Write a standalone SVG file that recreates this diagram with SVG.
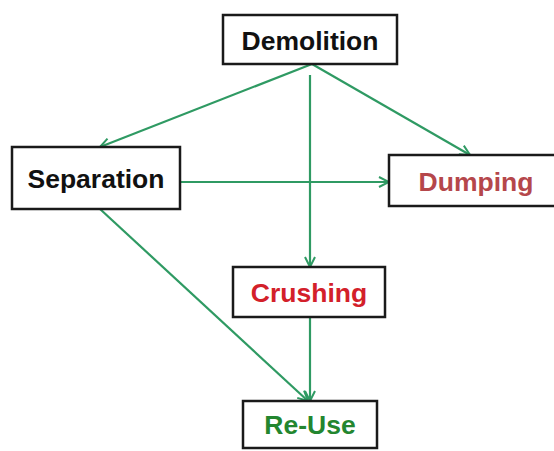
<svg xmlns="http://www.w3.org/2000/svg" width="554" height="451" viewBox="0 0 554 451">
<style>
.box{fill:#fff;stroke:#1a1a1a;stroke-width:2.5}
.lbl{font-family:"Liberation Sans",Arial,sans-serif;font-weight:bold;font-size:26.5px;text-anchor:middle;dominant-baseline:central}
.edge{fill:none;stroke:#2f9a63;stroke-width:2.2;marker-end:url(#arr)}
</style>
<defs>
<marker id="arr" viewBox="0 0 12 12" refX="11" refY="6" markerWidth="12" markerHeight="12" markerUnits="userSpaceOnUse" orient="auto">
<path d="M1,1 L11,6 L1,11" fill="none" stroke="#2f9a63" stroke-width="2"/>
</marker>
</defs>
<rect width="554" height="451" fill="#fff"/>
<g id="connectors">
<line class="edge" x1="312" y1="64" x2="100" y2="147"/>
<line class="edge" x1="312" y1="64" x2="470" y2="155"/>
<line class="edge" x1="310" y1="75" x2="310" y2="267"/>
<line class="edge" x1="180" y1="182" x2="389" y2="182"/>
<line class="edge" x1="100" y1="209" x2="308" y2="401"/>
<line class="edge" x1="310" y1="317" x2="310" y2="401"/>
</g>
<g id="demolition">
<rect class="box" x="223" y="15" width="174" height="49"/>
<text class="lbl" x="310" y="41" fill="#111">Demolition</text>
</g>
<g id="separation">
<rect class="box" x="12" y="147" width="168" height="62"/>
<text class="lbl" x="96" y="179" fill="#111">Separation</text>
</g>
<g id="dumping">
<rect class="box" x="389" y="155" width="170" height="51"/>
<text class="lbl" x="476" y="182" fill="#b5474b">Dumping</text>
</g>
<g id="crushing">
<rect class="box" x="233" y="267" width="152" height="50"/>
<text class="lbl" x="309" y="293" fill="#d3202a">Crushing</text>
</g>
<g id="reuse">
<rect class="box" x="243" y="401" width="134" height="47"/>
<text class="lbl" x="310" y="425" fill="#23862f">Re-Use</text>
</g>
</svg>
